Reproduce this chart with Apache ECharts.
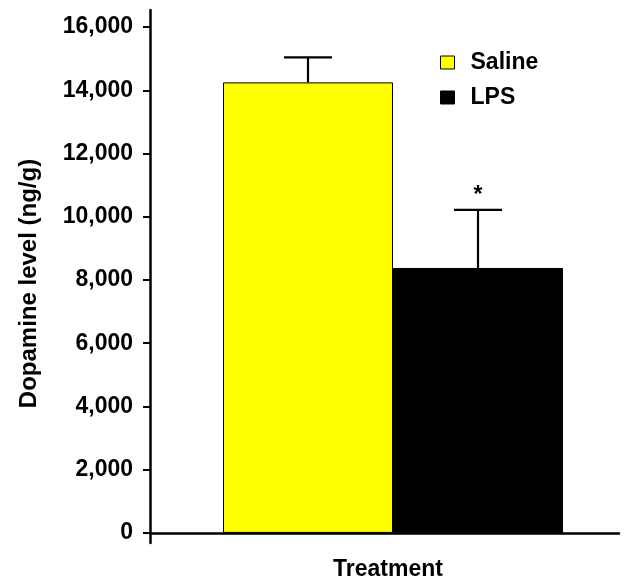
<!DOCTYPE html>
<html>
<head>
<meta charset="utf-8">
<script src="https://cdn.jsdelivr.net/npm/echarts@6/dist/echarts.min.js"></script>
<style>html,body{margin:0;padding:0;background:#fff;}#c{width:627px;height:576px;}</style>
</head>
<body>
<div id="c"></div>
<script>
// ---- data ----
const categories = [''];
const seriesNames = ['Saline', 'LPS'];
const means = [14250, 8380];
const errors = [790, 1840];
const significance = ['', '*'];
const yTicks = [0, 2000, 4000, 6000, 8000, 10000, 12000, 14000, 16000];
const colors = ['#FFFF00', '#000000'];

// ---- layout constants ----
const BAR_W = 170;
const SPACER_W = 17;
const CAP_HALF = 24;
const FONT = '"Liberation Sans", Arial, sans-serif';

const chart = echarts.init(document.getElementById('c'), null, {renderer: 'canvas'});

const barSeries = seriesNames.map((name, i) => ({
  name: name,
  type: 'bar',
  data: [means[i]],
  barWidth: BAR_W,
  barGap: '0%',
  itemStyle: {color: colors[i], borderColor: '#000', borderWidth: 1},
  z: 2
}));

const spacer = {
  name: 'spacer',
  type: 'bar',
  data: [null],
  barWidth: SPACER_W,
  barGap: '0%',
  silent: true
};

const errData = means.map((m, i) => [0, m, errors[i], i]);

const errSeries = {
  type: 'custom',
  name: 'err',
  data: errData,
  encode: {x: 0, y: 1},
  clip: false,
  z: 5,
  renderItem: function (params, api) {
    const mean = api.value(1);
    const err = api.value(2);
    const idx = api.value(3);
    const catCenter = api.coord([0, 0])[0];
    const groupStart = catCenter - (SPACER_W + BAR_W * seriesNames.length) / 2;
    const cx = groupStart + SPACER_W + BAR_W * idx + BAR_W / 2;
    const yBase = api.coord([0, mean])[1];
    const yTop = api.coord([0, mean + err])[1];
    const st = {stroke: '#000', lineWidth: 2.2};
    const children = [
      {type: 'line', shape: {x1: cx, y1: yBase, x2: cx, y2: yTop}, style: st},
      {type: 'line', shape: {x1: cx - CAP_HALF, y1: yTop, x2: cx + CAP_HALF, y2: yTop}, style: st}
    ];
    if (significance[idx]) {
      children.push({
        type: 'text',
        style: {
          text: significance[idx], x: cx, y: yTop - 26,
          align: 'center', verticalAlign: 'top',
          font: 'bold 23px ' + FONT, fill: '#000'
        }
      });
    }
    return {type: 'group', children: children};
  }
};

chart.setOption({
  animation: false,
  backgroundColor: '#fff',
  grid: {left: 150, right: 8, top: 10, bottom: 33, containLabel: false, outerBoundsMode: 'none'},
  legend: {
    data: seriesNames,
    orient: 'vertical',
    left: 440,
    top: 51,
    padding: 0,
    itemWidth: 14,
    itemHeight: 13,
    itemGap: 12,
    icon: 'rect',
    itemStyle: {borderColor: '#000', borderWidth: 1},
    textStyle: {fontFamily: FONT, fontWeight: 'bold', fontSize: 23, color: '#000', padding: [0, 0, 0, 11]}
  },
  xAxis: {
    type: 'category',
    data: categories,
    name: 'Treatment',
    nameLocation: 'middle',
    nameGap: 15,
    nameTextStyle: {fontFamily: FONT, fontWeight: 'bold', fontSize: 23, color: '#000', padding: [0, 0, 0, 7]},
    axisLine: {onZero: true, lineStyle: {color: '#000', width: 2.5}},
    axisTick: {show: false},
    axisLabel: {show: false},
    splitLine: {show: false}
  },
  yAxis: {
    type: 'value',
    min: -320,
    max: 16540,
    name: 'Dopamine level (ng/g)',
    nameLocation: 'middle',
    nameRotate: 90,
    nameGap: 109,
    nameTextStyle: {fontFamily: FONT, fontWeight: 'bold', fontSize: 24, color: '#000', padding: [0, 14, 0, 0]},
    axisLine: {show: true, lineStyle: {color: '#000', width: 2.5}},
    axisTick: {show: true, length: 7, customValues: yTicks, lineStyle: {color: '#000', width: 2}},
    axisLabel: {
      customValues: yTicks,
      margin: 17,
      fontFamily: FONT, fontWeight: 'bold', fontSize: 23, color: '#000',
      formatter: v => Number(v).toLocaleString('en-US')
    },
    splitLine: {show: false}
  },
  series: [spacer].concat(barSeries).concat([errSeries])
});
</script>
</body>
</html>
